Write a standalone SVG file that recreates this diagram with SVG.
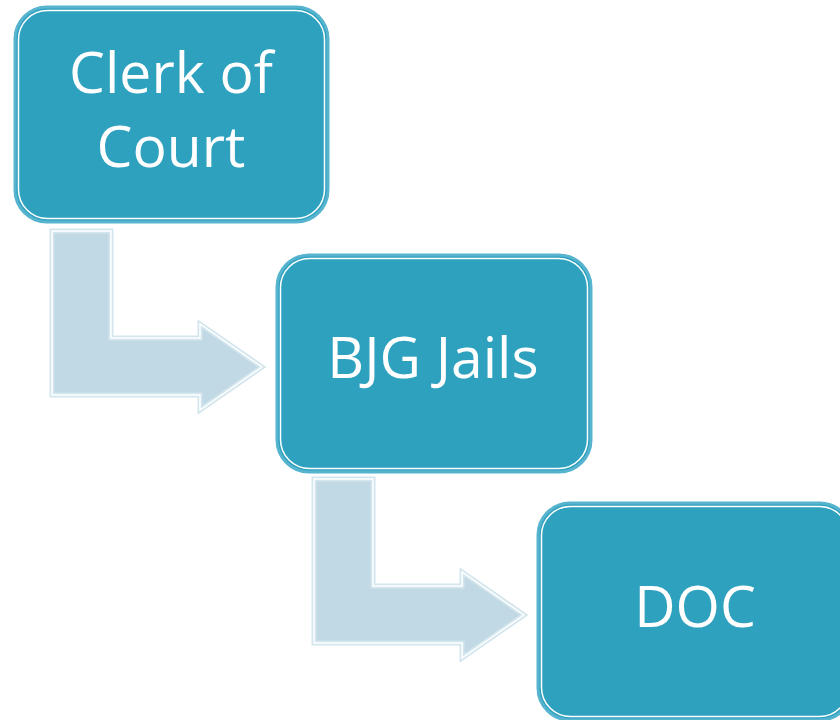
<svg xmlns="http://www.w3.org/2000/svg" width="840" height="720" viewBox="0 0 840 720">
<defs>
<style>
.box{fill:#2ea1bf;stroke:#56b4cf;stroke-width:3}
.inner{fill:none;stroke:#ffffff;stroke-width:1.5}
.arr{fill:#c0d9e4;stroke:#d3e5ed;stroke-width:5;stroke-linejoin:miter}
.arrw{fill:none;stroke:#ffffff;stroke-width:1.5;stroke-linejoin:miter}
.lbl{font-family:"Open Sans","Noto Sans","Liberation Sans",sans-serif;font-size:57px;fill:#ffffff;text-anchor:middle}
</style>
<path id="arrowShape" d="M0,0 H59 V107 H148 V93 L210,136 L148,179 V164 H0 Z"/>
</defs>
<rect width="840" height="720" fill="#ffffff"/>
<g id="connectors">
<g transform="translate(52,231)">
<use href="#arrowShape" class="arr"/>
<use href="#arrowShape" class="arrw"/>
</g>
<g transform="translate(314,479)">
<use href="#arrowShape" class="arr"/>
<use href="#arrowShape" class="arrw"/>
</g>
</g>
<g id="node-clerk">
<rect class="box" x="15" y="7" width="313" height="215" rx="32"/>
<rect class="inner" x="18.5" y="10.5" width="306" height="208" rx="29"/>
<text class="lbl" x="171" y="93">Clerk of</text>
<text class="lbl" x="171" y="167">Court</text>
</g>
<g id="node-bjg">
<rect class="box" x="277" y="255" width="314" height="217" rx="32"/>
<rect class="inner" x="280.5" y="258.5" width="307" height="210" rx="29"/>
<text class="lbl" x="433" y="378">BJG Jails</text>
</g>
<g id="node-doc">
<rect class="box" x="538" y="503" width="314" height="217" rx="32"/>
<rect class="inner" x="541.5" y="506.5" width="307" height="210" rx="29"/>
<text class="lbl" x="695" y="627">DOC</text>
</g>
</svg>
